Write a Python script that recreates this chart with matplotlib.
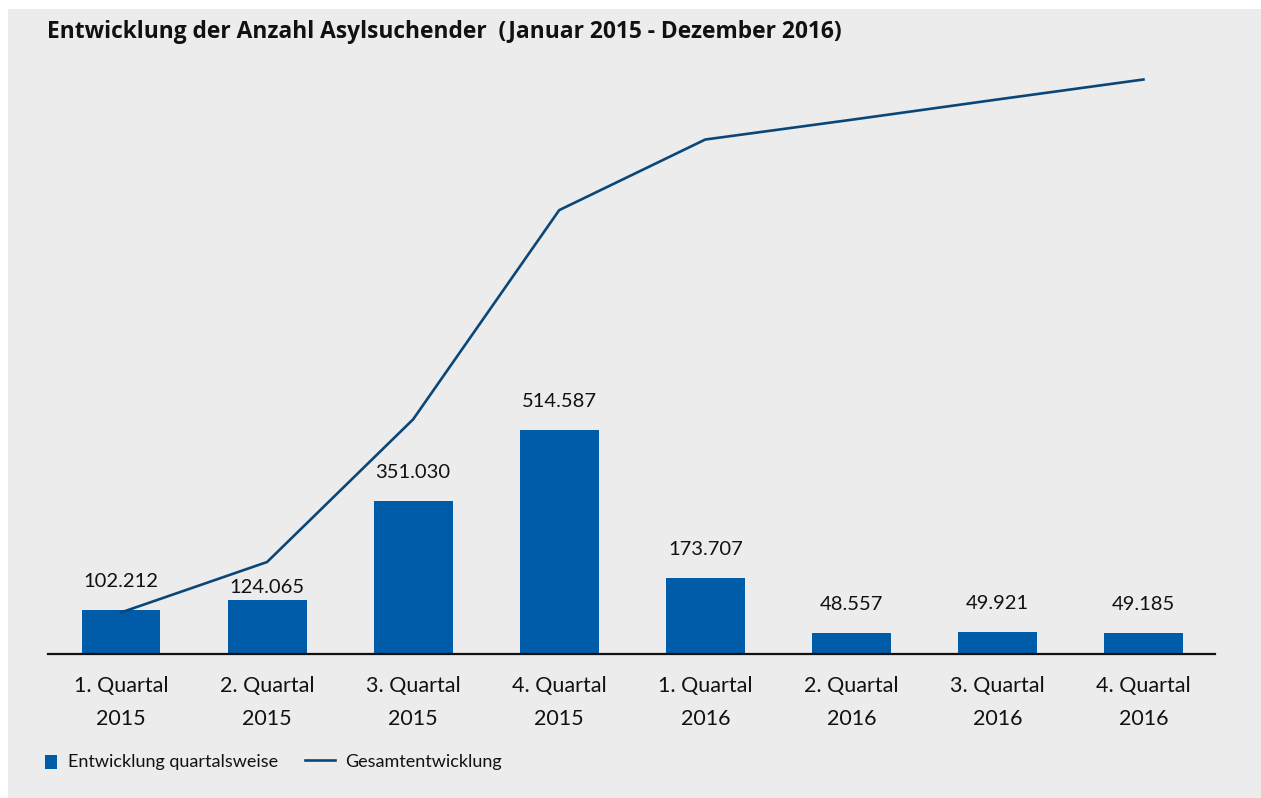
import matplotlib.pyplot as plt
from matplotlib.patches import Rectangle
from matplotlib.lines import Line2D

plt.rcParams["font.family"] = ["Lato", "DejaVu Sans"]

# Quarterly asylum seekers and running total
quarters = ["1. Quartal\n2015", "2. Quartal\n2015", "3. Quartal\n2015", "4. Quartal\n2015",
            "1. Quartal\n2016", "2. Quartal\n2016", "3. Quartal\n2016", "4. Quartal\n2016"]
quarterly = [102212, 124065, 351030, 514587, 173707, 48557, 49921, 49185]
labels = ["102.212", "124.065", "351.030", "514.587", "173.707", "48.557", "49.921", "49.185"]
total = [102212, 226277, 577307, 1091894, 1265601, 1314158, 1364079, 1413264]

BAR_COLOR = "#005ca8"
LINE_COLOR = "#0a4778"
BG = "#ececec"

W, H = 1261, 798
fig = plt.figure(figsize=(W / 100, H / 100), dpi=100)
fig.patch.set_facecolor("white")
# grey panel
fig.add_artist(Rectangle((8 / W, 0), 1, 1 - 9 / H, transform=fig.transFigure,
                         facecolor=BG, edgecolor="none", zorder=0))

ax_left, ax_right, ax_top, ax_bottom = 48, 1215, 60, 654
ax = fig.add_axes([ax_left / W, 1 - ax_bottom / H, (ax_right - ax_left) / W,
                   (ax_bottom - ax_top) / H])
ax.set_facecolor("none")

x = list(range(len(quarterly)))
ax.bar(x, quarterly, width=0.54, color=BAR_COLOR, zorder=2)
ax.set_xlim(-0.5, 7.49)
ax.set_ylim(0, (ax_bottom - ax_top) * 2297)

# label offsets in points (2nd label pushed down under the line)
offsets = [16.5, 5, 16.5, 16.5, 16.5, 16.5, 16.5, 16.5]
for xi, v, lab, off in zip(x, quarterly, labels, offsets):
    ax.annotate(lab, (xi, v), xytext=(0, off), textcoords="offset points",
                ha="center", va="baseline", fontsize=14.5, color="#111111")

for s in ["top", "right", "left"]:
    ax.spines[s].set_visible(False)
ax.spines["bottom"].set_linewidth(1.6)
ax.spines["bottom"].set_color("#111111")
ax.set_yticks([])
ax.set_xticks(x)
ax.set_xticklabels(quarters, fontsize=15.5, linespacing=1.78, color="#111111")
ax.tick_params(axis="x", length=0, pad=16)

ax2 = ax.twinx()
ax2.plot(x, total, color=LINE_COLOR, linewidth=1.9, zorder=3)
ax2.set_ylim(0, (ax_bottom - ax_top) * 2460)
ax2.set_yticks([])
for s in ["top", "right", "left", "bottom"]:
    ax2.spines[s].set_visible(False)

fig.text(47 / W, 1 - 38 / H, "Entwicklung der Anzahl Asylsuchender  (Januar 2015 - Dezember 2016)",
         fontsize=16.4, fontweight="bold", family=["Open Sans", "DejaVu Sans"],
         ha="left", va="baseline", color="#111111")

# legend
fig.add_artist(Rectangle((45 / W, 1 - 769 / H), 12 / W, 14 / H, transform=fig.transFigure,
                         facecolor=BAR_COLOR, edgecolor="none"))
fig.text(68 / W, 1 - 767 / H, "Entwicklung quartalsweise", fontsize=13,
         ha="left", va="baseline", color="#111111")
fig.add_artist(Line2D([305 / W, 335 / W], [1 - 760 / H, 1 - 760 / H], transform=fig.transFigure,
                      color=LINE_COLOR, linewidth=1.9))
fig.text(345 / W, 1 - 767 / H, "Gesamtentwicklung", fontsize=13,
         ha="left", va="baseline", color="#111111")

fig.savefig("out.png", dpi=100)
